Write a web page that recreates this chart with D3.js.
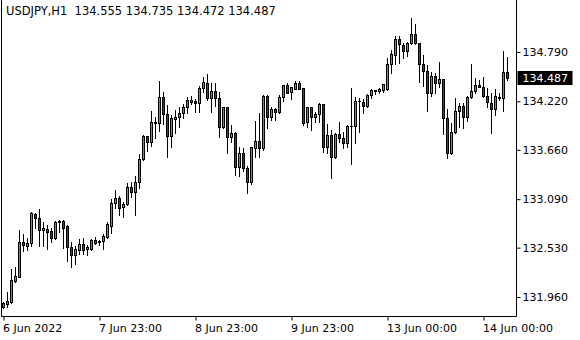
<!DOCTYPE html>
<html><head><meta charset="utf-8">
<script src="https://cdn.jsdelivr.net/npm/d3@7"></script>
<style>html,body{margin:0;padding:0;background:#fff;}svg{display:block;font-family:"DejaVu Sans",Verdana,sans-serif;}</style>
</head><body>
<svg id="c" width="580" height="340"></svg>
<script>
const symbol = "USDJPY,H1";
const lastOHLC = [134.555, 134.735, 134.472, 134.487];
const opens = [131.841,131.876,131.906,132.149,132.195,132.596,132.553,132.580,132.919,132.869,132.731,132.746,132.726,132.645,132.823,132.835,132.777,132.534,132.449,132.507,132.569,132.511,132.518,132.619,132.607,132.604,132.657,132.784,133.049,133.107,132.996,133.034,133.227,133.170,133.285,133.554,133.816,133.754,133.966,133.966,134.267,134.070,133.816,134.020,134.036,134.082,134.151,134.213,134.224,134.198,134.371,134.429,134.255,134.336,134.255,133.920,134.151,133.805,133.858,133.458,133.620,133.447,133.285,133.678,133.762,133.678,134.282,134.043,134.135,134.100,134.267,134.405,134.331,134.366,134.432,134.371,133.978,134.151,134.043,134.070,134.186,133.696,133.828,133.581,133.839,133.800,133.742,133.932,133.932,134.224,134.213,134.170,134.290,134.336,134.336,134.348,134.359,134.651,134.755,134.937,134.874,134.798,134.890,134.998,134.890,134.648,134.567,134.313,134.513,134.429,134.475,134.024,133.620,133.863,134.109,134.166,134.036,134.267,134.340,134.405,134.389,134.285,134.201,134.128,134.255,134.255,134.555];
const highs = [131.903,132.021,132.284,132.310,132.734,132.688,132.642,132.939,132.934,132.977,132.823,132.792,132.761,132.842,132.850,132.850,132.792,132.596,132.546,132.634,132.642,132.561,132.634,132.650,132.615,132.688,132.830,133.092,133.193,133.123,133.061,133.277,133.289,133.354,133.608,133.831,133.823,134.109,134.036,134.455,134.328,134.178,134.059,134.120,134.155,134.193,134.267,134.285,134.247,134.401,134.505,134.532,134.435,134.435,134.331,134.158,134.158,133.943,133.869,133.689,133.678,133.473,133.695,133.993,134.082,134.293,134.293,134.158,134.147,134.293,134.412,134.432,134.389,134.452,134.452,134.378,134.158,134.158,134.097,134.201,134.193,133.955,133.889,133.851,133.978,133.869,133.947,134.374,134.267,134.255,134.251,134.301,134.363,134.355,134.378,134.424,134.717,134.813,134.975,134.975,134.897,134.902,135.183,135.113,134.895,134.755,134.640,134.563,134.544,134.675,134.478,134.132,133.966,134.259,134.198,134.198,134.282,134.651,134.493,134.467,134.505,134.371,134.313,134.363,134.316,134.802,134.735];
const lows = [131.833,131.848,131.894,132.130,132.190,132.495,132.500,132.553,132.761,132.549,132.546,132.518,132.592,132.627,132.707,132.530,132.380,132.303,132.338,132.457,132.457,132.445,132.503,132.572,132.561,132.511,132.642,132.699,132.985,132.904,132.888,133.023,133.119,132.907,133.216,133.543,133.650,133.704,133.793,133.881,133.958,133.581,133.696,133.858,133.927,134.031,134.082,134.186,134.100,134.097,134.325,134.239,134.100,134.170,133.805,133.909,133.620,133.754,133.369,133.361,133.416,133.158,133.262,133.581,133.581,133.658,133.916,134.005,134.005,134.082,134.228,134.313,134.247,134.359,134.359,133.947,133.927,133.889,133.985,133.985,133.638,133.620,133.338,133.569,133.754,133.685,133.689,133.496,133.735,133.869,134.082,134.151,134.262,134.301,134.320,134.331,134.351,134.544,134.648,134.660,134.717,134.744,134.879,134.886,134.447,134.397,134.112,134.282,134.313,134.382,133.843,133.569,133.608,133.851,133.927,133.909,133.993,134.262,134.313,134.382,134.267,134.158,133.851,134.059,134.239,134.105,134.472];
const closes = [131.888,131.914,132.157,132.203,132.592,132.564,132.584,132.927,132.869,132.731,132.757,132.714,132.645,132.830,132.842,132.761,132.534,132.449,132.515,132.569,132.507,132.541,132.619,132.580,132.592,132.661,132.803,133.042,133.104,132.992,133.034,133.227,133.176,133.285,133.554,133.820,133.754,133.982,133.982,134.267,134.070,133.816,134.028,134.036,134.085,134.151,134.232,134.232,134.204,134.371,134.440,134.255,134.336,134.255,133.920,134.151,133.805,133.851,133.458,133.620,133.447,133.285,133.689,133.762,133.685,134.282,134.043,134.132,134.100,134.267,134.405,134.320,134.382,134.432,134.366,133.966,134.151,134.043,134.074,134.189,133.696,133.828,133.581,133.839,133.800,133.742,133.932,133.932,134.224,134.228,134.170,134.290,134.348,134.348,134.363,134.417,134.648,134.763,134.937,134.879,134.798,134.890,134.998,134.890,134.648,134.567,134.313,134.513,134.429,134.475,134.024,133.620,133.863,134.109,134.166,134.036,134.267,134.340,134.405,134.389,134.285,134.213,134.128,134.282,134.267,134.555,134.487];
const priceTicks = [134.790, 134.220, 133.660, 133.090, 132.530, 131.960];
const timeTickBars = [0, 24, 48, 72, 96, 120];
const timeTickLabels = ["6 Jun 2022", "7 Jun 23:00", "8 Jun 23:00", "9 Jun 23:00", "13 Jun 00:00", "14 Jun 00:00"];

const svg = d3.select("#c");
const left = 1.5, right = 516.5, bottom = 316.5;
const upColor = "#00dd00", downColor = "#dd0000";

const x = d3.scaleLinear().domain([0, opens.length - 1]).range([3.5, 3.5 + 4 * (opens.length - 1)]);
const y = d3.scaleLinear().domain([131.960, 134.790]).range([297, 52]);

const candles = opens.map((o, i) => ({i, o, h: highs[i], l: lows[i], c: closes[i]}));

// frame
svg.append("line").attr("x1", left).attr("x2", left).attr("y1", 0).attr("y2", bottom).attr("stroke", "#000");
svg.append("line").attr("x1", right).attr("x2", right).attr("y1", 0).attr("y2", bottom).attr("stroke", "#000");
svg.append("line").attr("x1", left).attr("x2", right).attr("y1", bottom).attr("y2", bottom).attr("stroke", "#000");

const g = svg.append("g");
const snap = v => Math.round(v);
g.selectAll("line.wick").data(candles).join("line").attr("class", "wick")
  .attr("x1", d => x(d.i)).attr("x2", d => x(d.i))
  .attr("y1", d => snap(y(d.h))).attr("y2", d => snap(y(d.l)) + 1)
  .attr("stroke", "#000").attr("stroke-width", 1);

candles.forEach(d => {
  const top = snap(y(Math.max(d.o, d.c))), bot = snap(y(Math.min(d.o, d.c)));
  if (bot - top < 1) {
    g.append("line").attr("x1", x(d.i) - 1.5).attr("x2", x(d.i) + 1.5)
      .attr("y1", top + 0.5).attr("y2", top + 0.5).attr("stroke", "#000");
  } else {
    g.append("rect").attr("x", x(d.i) - 1).attr("width", 2)
      .attr("y", top + 0.5).attr("height", bot - top)
      .attr("fill", d.c >= d.o ? upColor : downColor)
      .attr("stroke", "#000").attr("stroke-width", 1);
  }
});

// right price axis
const ya = d3.axisRight(y).tickValues(priceTicks).tickFormat(d3.format(".3f")).tickSize(4).tickPadding(2);
const yg = svg.append("g").attr("transform", `translate(${right},0)`).call(ya);
yg.select(".domain").remove();
yg.selectAll("line").attr("stroke", "#000");
yg.selectAll("text").attr("font-size", 11).attr("fill", "#000").attr("font-family", "DejaVu Sans");

// bottom time axis
const xa = d3.axisBottom(x).tickValues(timeTickBars).tickFormat((d, k) => timeTickLabels[k]).tickSize(4).tickPadding(4);
const xg = svg.append("g").attr("transform", `translate(0,${bottom})`).call(xa);
xg.select(".domain").remove();
xg.selectAll("line").attr("stroke", "#000");
xg.selectAll("text").attr("font-size", 11).attr("fill", "#000").attr("font-family", "DejaVu Sans")
  .attr("text-anchor", "start").attr("dx", -1);

// current price label
const lastClose = closes[closes.length - 1];
const ly = y(lastClose);
svg.append("rect").attr("x", right + 1).attr("y", Math.round(ly) - 7).attr("width", 55).attr("height", 14).attr("fill", "#000");
svg.append("text").attr("x", right + 6).attr("y", ly).attr("dy", "0.35em").attr("font-size", 11).attr("fill", "#fff")
  .text(d3.format(".3f")(lastClose));

// header
svg.append("text").attr("x", 6).attr("y", 15).attr("font-size", 11.5).attr("fill", "#000")
  .attr("xml:space", "preserve").style("white-space", "pre")
  .text(symbol + "  " + lastOHLC.map(d3.format(".3f")).join(" "));
</script>
</body></html>
